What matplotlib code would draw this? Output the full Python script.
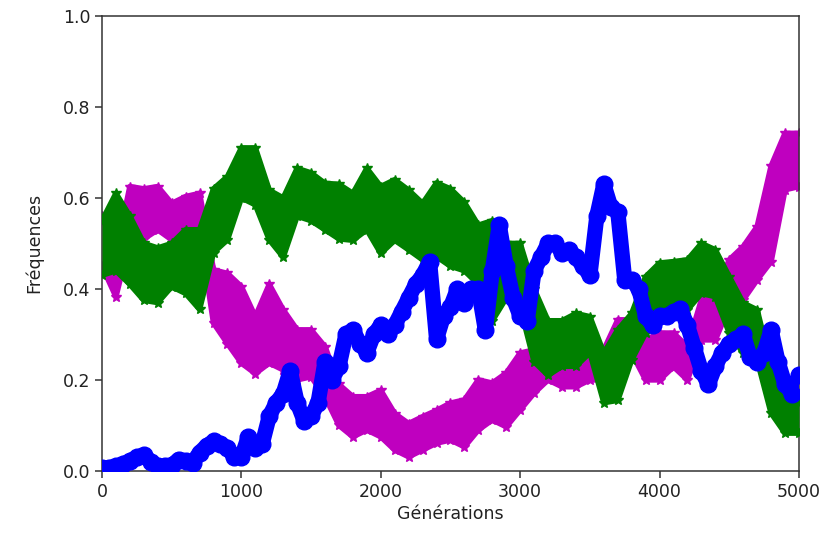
import numpy as np
import matplotlib
matplotlib.use("Agg")
from matplotlib import pyplot as plt

# generations sampled every 100 for the noisy bands, every 50 for the blue curve
gens = np.arange(0, 5001, 100)
gens_blue = np.arange(0, 5001, 50)

green_hi = [0.55, 0.61, 0.56, 0.50, 0.49, 0.50, 0.53, 0.53, 0.62, 0.647,
            0.71, 0.71, 0.617, 0.60, 0.665, 0.655, 0.632, 0.63, 0.61, 0.665,
            0.625, 0.64, 0.617, 0.588, 0.633, 0.62, 0.59, 0.54, 0.55, 0.50,
            0.50, 0.40, 0.33, 0.33, 0.346, 0.339, 0.259, 0.31, 0.346, 0.427,
            0.457, 0.46, 0.464, 0.50, 0.486, 0.427, 0.369, 0.354, 0.23, 0.178,
            0.149]
green_lo = [0.43, 0.44, 0.41, 0.375, 0.37, 0.405, 0.39, 0.355, 0.48, 0.508,
            0.60, 0.585, 0.508, 0.47, 0.56, 0.55, 0.53, 0.51, 0.507, 0.53,
            0.478, 0.507, 0.486, 0.464, 0.471, 0.45, 0.44, 0.41, 0.33, 0.38,
            0.36, 0.24, 0.21, 0.23, 0.23, 0.26, 0.15, 0.155, 0.244, 0.303,
            0.361, 0.365, 0.354, 0.39, 0.383, 0.303, 0.259, 0.244, 0.127, 0.083,
            0.083]

mag_hi = [0.56, 0.478, 0.625, 0.62, 0.625, 0.588, 0.603, 0.61, 0.442, 0.434,
          0.405, 0.339, 0.41, 0.354, 0.31, 0.31, 0.273, 0.19, 0.163, 0.163,
          0.177, 0.126, 0.104, 0.119, 0.133, 0.149, 0.156, 0.20, 0.193, 0.215,
          0.259, 0.266, 0.27, 0.273, 0.273, 0.273, 0.266, 0.332, 0.332, 0.288,
          0.303, 0.303, 0.273, 0.376, 0.391, 0.464, 0.493, 0.537, 0.67, 0.742,
          0.742]
mag_lo = [0.45, 0.383, 0.508, 0.51, 0.53, 0.508, 0.537, 0.53, 0.325, 0.28,
          0.237, 0.214, 0.237, 0.222, 0.20, 0.207, 0.163, 0.10, 0.075, 0.09,
          0.075, 0.046, 0.031, 0.046, 0.061, 0.068, 0.053, 0.09, 0.112, 0.097,
          0.134, 0.171, 0.20, 0.185, 0.185, 0.20, 0.20, 0.244, 0.259, 0.20,
          0.20, 0.229, 0.20, 0.288, 0.288, 0.361, 0.376, 0.42, 0.46, 0.618,
          0.625]

blue = [0.007, 0.007, 0.01, 0.015, 0.022, 0.03, 0.035, 0.02, 0.01, 0.01,
        0.012, 0.025, 0.022, 0.018, 0.04, 0.055, 0.065, 0.06, 0.05, 0.03,
        0.03, 0.075, 0.05, 0.06, 0.12, 0.15, 0.17, 0.22, 0.15, 0.11,
        0.12, 0.15, 0.24, 0.20, 0.23, 0.30, 0.31, 0.28, 0.26, 0.30,
        0.32, 0.30, 0.32, 0.35, 0.38, 0.41, 0.43, 0.46, 0.29, 0.34,
        0.36, 0.40, 0.37, 0.40, 0.40, 0.31, 0.44, 0.54, 0.45, 0.38,
        0.34, 0.33, 0.44, 0.47, 0.50, 0.50, 0.48, 0.485, 0.47, 0.45,
        0.43, 0.56, 0.63, 0.58, 0.57, 0.42, 0.42, 0.40, 0.34, 0.32,
        0.34, 0.34, 0.35, 0.355, 0.32, 0.27, 0.22, 0.19, 0.23, 0.26,
        0.28, 0.29, 0.30, 0.25, 0.24, 0.26, 0.31, 0.24, 0.19, 0.17,
        0.21]

fig = plt.figure(figsize=(8.34, 5.40), dpi=100)
ax = fig.add_axes([0.1223, 0.128, 0.8357, 0.8424])


def band(lo, hi, color, marker, z):
    ax.fill_between(gens, lo, hi, color=color, lw=0, zorder=z)
    for edge in (lo, hi):
        ax.plot(gens, edge, color=color, marker=marker, ms=7, lw=4, zorder=z)


band(mag_lo, mag_hi, 'm', '*', 2)
band(green_lo, green_hi, 'g', '*', 3)
ax.plot(gens_blue, blue, color='b', marker='o', ms=12, lw=11,
        solid_capstyle='round', solid_joinstyle='round', zorder=4)

ax.set_xlim(0, 5000)
ax.set_ylim(0, 1)
ax.set_xticks([0, 1000, 2000, 3000, 4000, 5000])
ax.set_yticks([0.0, 0.2, 0.4, 0.6, 0.8, 1.0])
ax.tick_params(labelsize=12.5, length=5, width=1.1, color='#333333', labelcolor='#222222')
for s in ax.spines.values():
    s.set_linewidth(1.1)
    s.set_color('#333333')
ax.set_xlabel('Générations', fontsize=12.5, color='#222222', labelpad=3)
ax.set_ylabel('Fréquences', fontsize=12.5, color='#222222', labelpad=14)

fig.savefig('out.png', dpi=100)
